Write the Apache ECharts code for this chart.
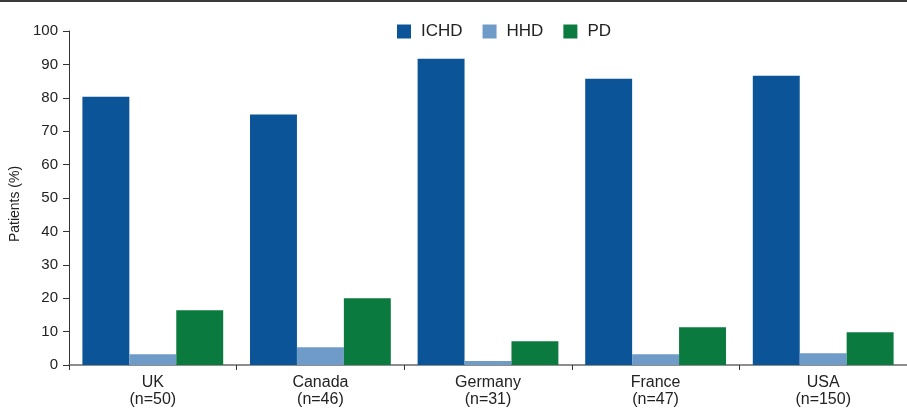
<!DOCTYPE html>
<html>
<head>
<meta charset="utf-8">
<script src="https://cdn.jsdelivr.net/npm/echarts@6/dist/echarts.min.js"></script>
<style>html,body{margin:0;padding:0;background:#fff}#c{width:907px;height:408px}</style>
</head>
<body>
<div id="c"></div>
<script>
const categories = ['UK\n(n=50)', 'Canada\n(n=46)', 'Germany\n(n=31)', 'France\n(n=47)', 'USA\n(n=150)'];
const seriesNames = ['ICHD', 'HHD', 'PD'];
const ichd = [80.3, 75.0, 91.7, 85.7, 86.6];
const hhd = [3.2, 5.3, 1.2, 3.2, 3.5];
const pd = [16.4, 20.0, 7.1, 11.3, 9.8];
const yTicks = [0, 10, 20, 30, 40, 50, 60, 70, 80, 90, 100];
const colors = ['#0a5497', '#6e9bc8', '#0b7a3e'];

const chart = echarts.init(document.getElementById('c'), null, {renderer: 'canvas'});
const font = 'Liberation Sans, Arial, Helvetica, sans-serif';
const values = [ichd, hhd, pd];
chart.setOption({
  animation: false,
  textStyle: {fontFamily: font},
  graphic: [{type: 'rect', left: 0, top: 0, shape: {width: 907, height: 2}, style: {fill: '#3a3a3a'}}],
  legend: {
    top: 18, left: 392,
    data: seriesNames,
    itemWidth: 14, itemHeight: 14, itemGap: 20,
    icon: 'rect',
    textStyle: {fontSize: 17, color: '#222', fontFamily: font, padding: [0, 0, 0, 5]}
  },
  grid: {left: 69, top: 31, width: 847, height: 334, containLabel: false},
  xAxis: {
    type: 'category',
    data: categories,
    axisLine: {lineStyle: {color: '#6a6a6a', width: 1.5}},
    axisTick: {show: true, length: 5, lineStyle: {color: '#333'}},
    axisLabel: {fontSize: 16, color: '#222', lineHeight: 17, margin: 9, fontFamily: font}
  },
  yAxis: {
    type: 'value', min: yTicks[0], max: yTicks[yTicks.length - 1], interval: 10,
    name: 'Patients (%)', nameLocation: 'middle', nameGap: 44,
    nameTextStyle: {fontSize: 14, color: '#222', fontFamily: font, padding: [0, 0, 0, -12]},
    axisLine: {show: true, lineStyle: {color: '#333'}},
    axisTick: {show: true, length: 6, lineStyle: {color: '#333'}},
    splitLine: {show: false},
    axisLabel: {fontSize: 15, color: '#222', margin: 11, fontFamily: font}
  },
  series: seriesNames.map((n, i) => ({
    name: n, type: 'bar', data: values[i],
    barGap: '0%', barCategoryGap: '16%',
    itemStyle: {color: colors[i]}
  }))
});
</script>
</body>
</html>
